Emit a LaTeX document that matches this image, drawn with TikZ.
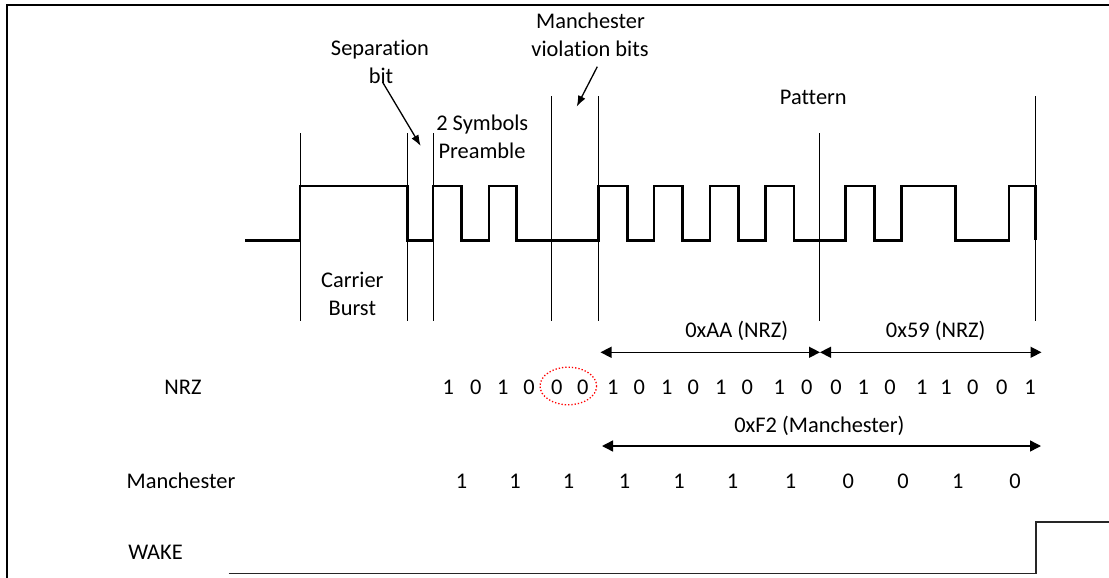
\documentclass[tikz,border=0pt]{standalone}
\usepackage{fontspec}
\setmainfont{Carlito}[Ligatures={NoCommon,NoRare}, RawFeature={-liga;-clig;-dlig}]
\usetikzlibrary{arrows.meta}
\begin{document}
\begin{tikzpicture}[x=1pt,y=-1pt,
  txt/.style={font=\fontsize{22.4}{27}\selectfont, inner sep=0pt, anchor=base},
  wave/.style={line width=2.8pt, line join=miter, line cap=butt},
  marker/.style={line width=1pt},
  span/.style={line width=1.4pt, {Triangle[length=11pt,width=11pt]}-{Triangle[length=11pt,width=11pt]}},
  callout/.style={line width=1.3pt, -{Latex[length=11pt,width=8pt]}},
  frame/.style={line width=2pt},
  wakeline/.style={line width=1.7pt, draw=black!85}]
\useasboundingbox (0,0) rectangle (1109,578);
% frame
\coordinate (fr1) at (1109,5);
\coordinate (fr2) at (6.7,5);
\coordinate (fr3) at (6.7,578);
\draw[frame] (fr1) -- (fr2) -- (fr3);
% waveform
\def\H{186}\def\L{240.3}
\draw[wave] (245,\L) -- (300,\L) -- (300,\H) -- (407.7,\H) -- (407.7,\L) -- (433,\L) -- (433,\H)
  -- (461.7,\H) -- (461.7,\L) -- (489,\L) -- (489,\H) -- (516.7,\H) -- (516.7,\L)
  -- (598.5,\L) -- (598.5,\H) -- (627.7,\H) -- (627.7,\L) -- (654,\L) -- (654,\H)
  -- (682.3,\H) -- (682.3,\L) -- (710,\L) -- (710,\H) -- (738.3,\H) -- (738.3,\L)
  -- (765.7,\L) -- (765.7,\H) -- (794,\H) -- (794,\L) -- (845.7,\L) -- (845.7,\H)
  -- (874.3,\H) -- (874.3,\L) -- (901.7,\L) -- (901.7,\H) -- (955.7,\H) -- (955.7,\L)
  -- (1009,\L) -- (1009,\H) -- (1035.7,\H) -- (1035.7,\L);
% marker lines
\foreach \x/\t [count=\i] in {300/133, 407.7/133, 433/133, 551.7/96.5, 598.5/96.5, 819.3/133, 1035.7/96.5}{
  \coordinate (mt\i) at (\x,\t);
  \coordinate (mb\i) at (\x,321);
  \draw[marker] (mt\i) -- (mb\i);
}
% top labels
\node[txt] (sep1) at (380,56) {Separat\kern0pt ion};
\node[txt] (sep2) at (381,84) {bit};
\node[txt] (pre1) at (482.3,130.5) {2 Symbols};
\node[txt] (pre2) at (482,158.7) {Preamble};
\node[txt] (man1) at (590.5,29) {Manchester};
\node[txt] (man2) at (590,56.5) {violat\kern0pt ion bits};
\node[txt] (pat) at (813.3,104) {Pattern};
\node[txt] (car1) at (352.3,287) {Carrier};
\node[txt] (car2) at (352.3,315.3) {Burst};
% callout arrows
\coordinate (sepA) at (382.5,82);
\coordinate (sepB) at (420.7,146);
\draw[callout] (sepA) -- (sepB);
\coordinate (manA) at (597.3,66.7);
\coordinate (manB) at (576.7,106.7);
\draw[callout] (manA) -- (manB);
% spans
\coordinate (aaL) at (600.5,352.3);
\coordinate (aaR) at (820,352.3);
\coordinate (nnR) at (1041.5,352.3);
\draw[span] (aaL) -- (aaR);
\draw[span] (aaR) -- (nnR);
\node[txt] (aalab) at (736.7,337) {0xAA (NRZ)};
\node[txt] (nnlab) at (935.7,337) {0x59 (NRZ)};
\coordinate (f2L) at (602,446);
\coordinate (f2R) at (1041,446);
\draw[span] (f2L) -- (f2R);
\node[txt] (f2lab) at (819.4,432) {0xF2 (Manchester)};
% row labels
\node[txt] (nrzlab) at (183,394) {NRZ};
\node[txt] (manlab) at (181,488) {Manchester};
\node[txt] (wakelab) at (155.5,559) {WAKE};
% NRZ bits
\foreach \x/\b [count=\i] in {448.3/1, 475.7/0, 502.7/1, 529/0, 556.7/0, 582.7/0, 612.7/1, 639.3/0,
  666.7/1, 693.3/0, 720.7/1, 747.3/0, 779.3/1, 806.7/0, 836/0, 863.3/1, 890/0, 921.7/1,
  946/1, 972.7/0, 1001.7/0, 1030/1}{
  \node[txt] (nrz\i) at (\x,394) {\b};
}
% violation ellipse
\draw[red, dotted, line width=1.3pt] (568.3,386) ellipse [x radius=28.3, y radius=18.8];
% Manchester bits
\foreach \x/\b [count=\i] in {461.6/1, 515/1, 568.5/1, 624.5/1, 679/1, 732.6/1, 790.5/1,
  848.4/0, 903/0, 957.8/1, 1015/0}{
  \node[txt] (mb\i) at (\x,488) {\b};
}
% WAKE signal
\coordinate (w1) at (228.7,573.5);
\coordinate (w2) at (1036.2,573.5);
\coordinate (w3) at (1036.2,521.7);
\coordinate (w4) at (1109,521.7);
\draw[wakeline] (w1) -- (w2) -- (w3) -- (w4);
\end{tikzpicture}
\end{document}
